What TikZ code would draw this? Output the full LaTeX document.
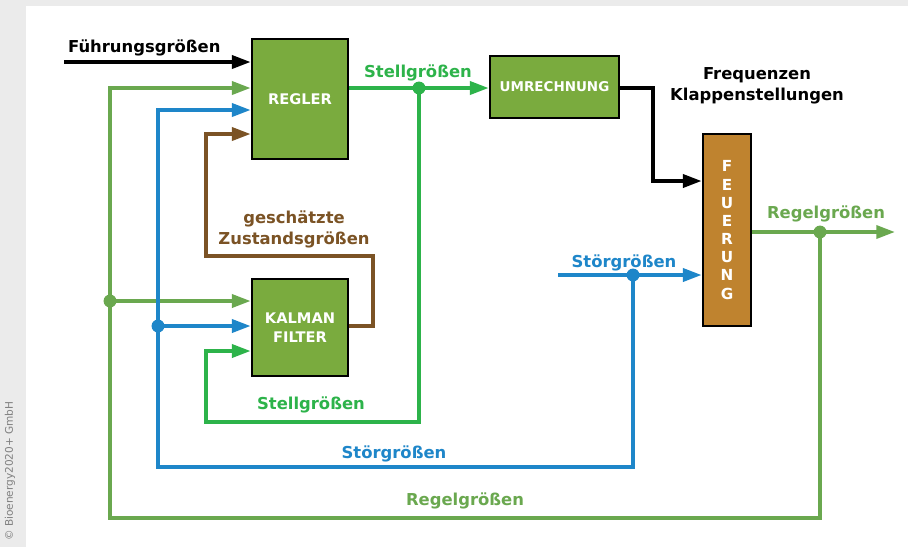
\documentclass[tikz,border=0pt]{standalone}
\usepackage{fontspec}
\setmainfont{DejaVu Sans}
\usetikzlibrary{arrows.meta,calc,positioning}
\definecolor{panelgray}{HTML}{EBEBEB}
\definecolor{boxgreen}{HTML}{7AAB3E}
\definecolor{feuerbrown}{HTML}{BF832F}
\definecolor{regelgreen}{HTML}{6AA84F}
\definecolor{stellgreen}{HTML}{2DB34A}
\definecolor{stoerblue}{HTML}{1E86C9}
\definecolor{zustbrown}{HTML}{7B5325}
\tikzset{
  block/.style={draw=black, line width=2.2pt, fill=boxgreen, text=white, inner sep=0pt,
    align=center, font=\bfseries\fontsize{12.5}{16}\selectfont},
  sig/.style={line width=3.2pt, -{Triangle[length=16pt,width=11pt]}},
  lbl/.style={font=\bfseries\fontsize{14}{18}\selectfont, align=center},
  dot/.style={circle, fill, inner sep=0pt, minimum size=11pt}
}

\begin{document}
\begin{tikzpicture}[x=0.03cm,y=-0.03cm]
\useasboundingbox (0,0) rectangle (908,547);
\fill[panelgray] (0,0) rectangle (908,547);
\fill[white] (26,6) rectangle (908,547);
\node[rotate=90, anchor=west, text=gray, font=\fontsize{9}{10}\selectfont] (copy) at (10,545) {© Bioenergy2020+ GmbH};

% blocks
\node[block, minimum width=2.88cm, minimum height=3.6cm] (regler) at (300,99) {REGLER};
\node[block, minimum width=2.88cm, minimum height=2.91cm] (kalman) at (300,327.5) {KALMAN\\FILTER};
\node[block, minimum width=3.87cm, minimum height=1.86cm,
  font=\bfseries\fontsize{11.5}{14}\selectfont] (umr) at (554.5,87) {UMRECHNUNG};
\node[block, fill=feuerbrown, minimum width=1.44cm, minimum height=5.76cm,
  font=\bfseries\fontsize{13}{15.5}\selectfont] (feuerung) at (727,230) {F\\E\\U\\E\\R\\U\\N\\G};

% junctions
\coordinate (fin) at (64,62);
\coordinate (rg) at (820,232);
\coordinate (rgout) at (895,232);
\coordinate (rk) at (110,301);
\coordinate (sin) at (558,275);
\coordinate (sg) at (633,275);
\coordinate (sk) at (158,326);
\coordinate (st) at (419,88);

% Führungsgrößen
\draw[sig, black] (fin) -- (fin -| regler.west);
% Regelgrößen
\draw[sig, regelgreen] (feuerung.east |- rg) -- (rgout);
\draw[sig, regelgreen] (rg) |- (110,518) |- (regler.west |- 0,88);
\draw[sig, regelgreen] (rk) -- (rk -| kalman.west);
% Störgrößen
\draw[sig, stoerblue] (sin) -- (sin -| feuerung.west);
\draw[sig, stoerblue] (sg) |- (158,467) |- (regler.west |- 0,110);
\draw[sig, stoerblue] (sk) -- (sk -| kalman.west);
% geschätzte Zustandsgrößen
\draw[sig, zustbrown] (kalman.east |- 0,326) -| (373,256) -| (206,134) -- (regler.west |- 0,134);
% Stellgrößen
\draw[sig, stellgreen] (regler.east |- st) -- (umr.west |- st);
\draw[sig, stellgreen] (st) |- (206,422) |- (kalman.west |- 0,351);
% Frequenzen
\draw[sig, black] (umr.east |- st) -| (653,181) -- (feuerung.west |- 0,181);

\node[dot, regelgreen] at (rg) {};
\node[dot, regelgreen] at (rk) {};
\node[dot, stoerblue] at (sg) {};
\node[dot, stoerblue] at (sk) {};
\node[dot, stellgreen] at (st) {};

% labels
\node[lbl, anchor=base west] (lfuehr) at (64,52) {Führungsgrößen};
\node[lbl, anchor=base, text=stellgreen] (lstell1) at (418,77) {Stellgrößen};
\node[lbl, anchor=base, text=stellgreen] (lstell2) at (311,409) {Stellgrößen};
\node[lbl, anchor=base, text=stoerblue] (lstoer1) at (624,267) {Störgrößen};
\node[lbl, anchor=base, text=stoerblue] (lstoer2) at (394,458) {Störgrößen};
\node[lbl, anchor=base, text=regelgreen] (lregel1) at (826,218) {Regelgrößen};
\node[lbl, anchor=base, text=regelgreen] (lregel2) at (465,505) {Regelgrößen};
\node[lbl, text=zustbrown] (lzust) at (294,229) {geschätzte\\Zustandsgrößen};
\node[lbl] (lfreq) at (757,86) {Frequenzen\\Klappenstellungen};
\end{tikzpicture}
\end{document}
